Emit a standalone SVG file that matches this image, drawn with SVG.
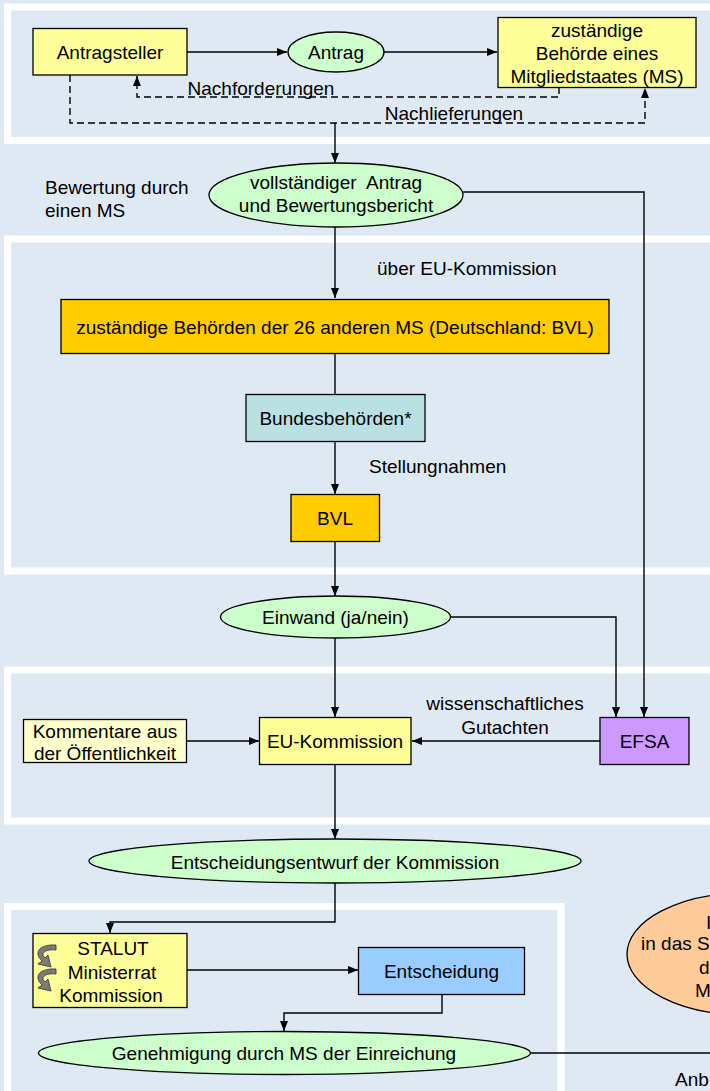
<svg xmlns="http://www.w3.org/2000/svg" width="710" height="1091" viewBox="0 0 710 1091">
<defs>
<marker id="ah" markerUnits="userSpaceOnUse" markerWidth="10" markerHeight="8" refX="10" refY="4" orient="auto">
<path d="M0,0 L10,4 L0,8 z" fill="#000"/>
</marker>
<path id="curl" d="M56,945 C42,944 32,951 42,961 L38,964 L51,967 L48,955 L45,958 C40,953 45,949 56,950 Z" fill="#7a7a7a" stroke="#333" stroke-width="0.8"/>
<style>
text{font-family:"Liberation Sans",Arial,sans-serif;font-size:19px;fill:#000}
.c{text-anchor:middle}
.panel{fill:none;stroke:#fff;stroke-width:7}
.box{stroke:#000;stroke-width:1.3}
.y{fill:#FFFF99}
.g{fill:#CCFFCC}
.o{fill:#FFCC00}
.ln{fill:none;stroke:#000;stroke-width:1.4}
.d{stroke-dasharray:7 4}
.ar{marker-end:url(#ah)}
</style>
</defs>
<rect x="0" y="0" width="710" height="1091" fill="#DEE9F4"/>
<g id="panels">
<rect class="panel" x="7.5" y="7" width="740" height="133.5"/>
<rect class="panel" x="7.5" y="239" width="740" height="332"/>
<rect class="panel" x="7.5" y="670" width="740" height="151"/>
<rect class="panel" x="7.5" y="906.5" width="553.5" height="190"/>
</g>
<g id="connectors">
<path class="ln ar" d="M187,52 L287,52"/>
<path class="ln ar" d="M384,52 L497,52"/>
<path class="ln d ar" d="M559,87 L559,97 L137,97 L137,76"/>
<path class="ln d ar" d="M70,75 L70,123 L645,123 L645,88"/>
<path class="ln ar" d="M335,123 L335,163"/>
<path class="ln ar" d="M463,192 L644,192 L644,717"/>
<path class="ln ar" d="M335,227 L335,298"/>
<path class="ln" d="M335,353 L335,394"/>
<path class="ln ar" d="M335,442 L335,494"/>
<path class="ln ar" d="M335,542 L335,596"/>
<path class="ln ar" d="M450,617 L616,617 L616,717"/>
<path class="ln ar" d="M335,638 L335,717"/>
<path class="ln ar" d="M187,741 L259,741"/>
<path class="ln ar" d="M600,741 L412,741"/>
<path class="ln ar" d="M335,764 L335,839"/>
<path class="ln ar" d="M335,883 L335,922 L110,922 L110,933"/>
<path class="ln ar" d="M187,970 L358,970"/>
<path class="ln ar" d="M442,995 L442,1013 L284,1013 L284,1031"/>
<path class="ln" d="M531,1053 L715,1053"/>
</g>
<g id="antragsteller">
<rect class="box y" x="33" y="28.5" width="154" height="46.5"/>
<text class="c" x="110" y="59">Antragsteller</text>
</g>
<g id="antrag">
<ellipse class="box g" cx="336" cy="52" rx="48" ry="20"/>
<text class="c" x="336" y="59">Antrag</text>
</g>
<g id="behoerde">
<rect class="box y" x="498" y="17.5" width="198" height="70"/>
<text class="c" x="597" y="37">zuständige</text>
<text class="c" x="597" y="60">Behörde eines</text>
<text class="c" x="597" y="83">Mitgliedstaates (MS)</text>
</g>
<g id="labels-top">
<text class="c" x="261" y="95">Nachforderungen</text>
<text class="c" x="454" y="120">Nachlieferungen</text>
</g>
<g id="bewertung-label">
<text x="45" y="193.5">Bewertung durch</text>
<text x="45" y="217">einen MS</text>
</g>
<g id="vollstaendig">
<ellipse class="box g" cx="336" cy="195" rx="127" ry="32"/>
<text class="c" x="336" y="188.5" xml:space="preserve">vollständiger  Antrag</text>
<text class="c" x="336" y="212">und Bewertungsbericht</text>
</g>
<g id="ueber">
<text x="377" y="275">über EU-Kommission</text>
</g>
<g id="behoerden26">
<rect class="box o" x="61" y="299.5" width="548" height="54"/>
<text class="c" x="335" y="333.5">zuständige Behörden der 26 anderen MS (Deutschland: BVL)</text>
</g>
<g id="bundesbehoerden">
<rect class="box" fill="#B9E1E3" x="246" y="394.5" width="179" height="47"/>
<text class="c" x="335.5" y="425">Bundesbehörden*</text>
</g>
<g id="stellungnahmen">
<text x="369" y="473">Stellungnahmen</text>
</g>
<g id="bvl">
<rect class="box o" x="291" y="494.5" width="88.5" height="47"/>
<text class="c" x="335" y="525">BVL</text>
</g>
<g id="einwand">
<ellipse class="box g" cx="335.5" cy="617" rx="115" ry="21"/>
<text class="c" x="335.5" y="624">Einwand (ja/nein)</text>
</g>
<g id="kommentare">
<rect class="box" fill="#FFFFCC" x="23.5" y="719.5" width="163" height="43"/>
<text class="c" x="105" y="738">Kommentare aus</text>
<text class="c" x="105" y="760">der Öffentlichkeit</text>
</g>
<g id="eu-kommission">
<rect class="box y" x="259.5" y="717.5" width="151.5" height="47"/>
<text class="c" x="335" y="748">EU-Kommission</text>
</g>
<g id="gutachten">
<text class="c" x="505" y="710">wissenschaftliches</text>
<text class="c" x="505" y="733.5">Gutachten</text>
</g>
<g id="efsa">
<rect class="box" fill="#CC99FF" x="600" y="717.5" width="89" height="47"/>
<text class="c" x="644.5" y="748">EFSA</text>
</g>
<g id="entwurf">
<ellipse class="box g" cx="335" cy="861" rx="246" ry="22"/>
<text class="c" x="335" y="869">Entscheidungsentwurf der Kommission</text>
</g>
<g id="stalut">
<rect class="box y" x="33" y="933.5" width="154" height="74"/>
<use href="#curl"/>
<use href="#curl" y="24"/>
<text class="c" x="113" y="955">STALUT</text>
<text class="c" x="112" y="978.5">Ministerrat</text>
<text class="c" x="111" y="1002">Kommission</text>
</g>
<g id="entscheidung">
<rect class="box" fill="#99CCFF" x="358.5" y="947.5" width="166" height="47"/>
<text class="c" x="441.5" y="978">Entscheidung</text>
</g>
<g id="genehmigung">
<ellipse class="box g" cx="284.5" cy="1053" rx="246" ry="21.5"/>
<text class="c" x="284" y="1060">Genehmigung durch MS der Einreichung</text>
</g>
<g id="standortregister">
<ellipse class="box" fill="#FFCC99" cx="745" cy="954" rx="118" ry="61"/>
<text x="706" y="929">I</text>
<text x="641" y="950">in das S</text>
<text x="699" y="974">d</text>
<text x="695" y="997">M</text>
</g>
<g id="anb">
<text x="675" y="1086">Anb</text>
</g>
</svg>
